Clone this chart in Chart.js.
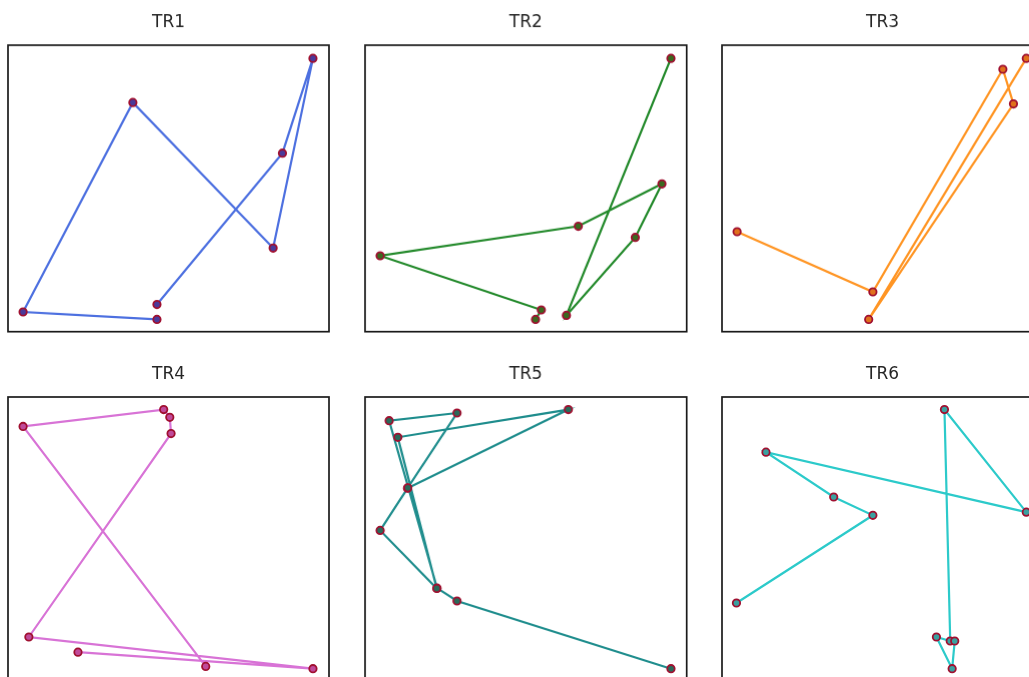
<!DOCTYPE html>
<html>
<head>
<meta charset="utf-8">
<script src="https://cdn.jsdelivr.net/npm/chart.js@4/dist/chart.umd.min.js"></script>
<style>
  html, body { margin: 0; padding: 0; background: #fff; overflow: hidden; width: 1029px; height: 677px; }
  .cell { position: absolute; }
</style>
</head>
<body>
<div class="cell" id="c1"><canvas id="tr1"></canvas></div>
<div class="cell" id="c2"><canvas id="tr2"></canvas></div>
<div class="cell" id="c3"><canvas id="tr3"></canvas></div>
<div class="cell" id="c4"><canvas id="tr4"></canvas></div>
<div class="cell" id="c5"><canvas id="tr5"></canvas></div>
<div class="cell" id="c6"><canvas id="tr6"></canvas></div>
<script>
// ---- Data (axis units 0..100) ----
const titles = ["TR1", "TR2", "TR3", "TR4", "TR5", "TR6"];

const tr1X = [46.4, 85.5, 95.0, 82.6, 38.9, 4.7, 46.4];
const tr1Y = [9.5, 62.3, 95.4, 29.2, 80.0, 6.9, 4.3];

const tr2X = [53.0, 54.8, 4.7, 66.3, 92.3, 84.0, 62.6, 95.1];
const tr2Y = [4.3, 7.6, 26.5, 36.8, 51.6, 32.9, 5.7, 95.4];

const tr3X = [4.7, 47.0, 87.5, 90.8, 45.7, 94.8];
const tr3Y = [34.9, 13.9, 91.6, 79.5, 4.3, 95.4];

const tr4X = [61.6, 4.7, 48.5, 50.4, 50.8, 6.5, 95.0, 21.8];
const tr4Y = [5.7, 89.7, 95.6, 92.9, 87.2, 16.0, 4.9, 10.7];

const tr5X = [95.1, 28.6, 22.4, 7.5, 28.6, 13.2, 63.2, 10.2, 22.3, 4.7, 13.3];
const tr5Y = [4.9, 28.6, 33.1, 91.7, 94.4, 68.1, 95.6, 85.9, 33.0, 53.3, 68.2];

const tr6X = [4.5, 47.0, 34.8, 13.7, 94.8, 69.3, 71.1, 66.8, 71.7, 72.5];
const tr6Y = [27.9, 58.6, 65.0, 80.7, 59.7, 95.6, 14.6, 16.0, 4.9, 14.6];

const seriesX = [tr1X, tr2X, tr3X, tr4X, tr5X, tr6X];
const seriesY = [tr1Y, tr2Y, tr3Y, tr4Y, tr5Y, tr6Y];

// ---- Styles ----
const lineColors = ["#4d70e0", "#22892a", "#ff9524", "#d873d6", "#1f8d8d", "#2ccaca"];
const markerFill = ["#4a3a9a", "#3a6a20", "#e0701c", "#c04a9a", "#2a6a5a", "#3aa0a0"];
const markerEdge = "#a01030";

// box geometry (left, top of box, width, height) in page pixels
const boxes = [
  [8.3, 45, 321, 285.7],
  [365, 45, 320.7, 285.7],
  [721.7, 45, 321, 285.7],
  [8.3, 396.7, 321, 285.7],
  [365, 396.7, 320.7, 285.7],
  [721.7, 396.7, 321, 285.7]
];

const PAD = 4;
const TITLE_SIZE = 17;
const TITLE_LH = 1.2;
const TITLE_PT = 12.0;
const TITLE_PB = 45 - TITLE_PT - TITLE_SIZE * TITLE_LH;

const boxPlugin = {
  id: 'boxPlugin',
  afterDatasetsDraw(chart) {
    const a = chart.chartArea;
    const ctx = chart.ctx;
    ctx.save();
    ctx.strokeStyle = '#1a1a1a';
    ctx.lineWidth = 1.7;
    ctx.strokeRect(a.left, a.top, a.right - a.left, a.bottom - a.top);
    ctx.restore();
  }
};

for (let i = 0; i < 6; i++) {
  const [bl, bt, bw, bh] = boxes[i];
  const cell = document.getElementById('c' + (i + 1));
  cell.style.left = (bl - PAD) + 'px';
  cell.style.top = (bt - 45) + 'px';
  cell.style.width = (bw + 2 * PAD) + 'px';
  cell.style.height = (45 + bh + PAD) + 'px';

  const pts = seriesX[i].map((x, k) => ({ x: x, y: seriesY[i][k] }));

  new Chart(document.getElementById('tr' + (i + 1)), {
    type: 'scatter',
    data: {
      datasets: [{
        data: pts,
        showLine: true,
        borderColor: lineColors[i],
        borderWidth: 2.2,
        pointRadius: 3.7,
        pointBorderWidth: 1.8,
        pointBackgroundColor: markerFill[i],
        pointBorderColor: markerEdge,
        tension: 0,
        clip: false
      }]
    },
    options: {
      responsive: true,
      maintainAspectRatio: false,
      animation: false,
      events: [],
      layout: { autoPadding: false, padding: { left: PAD, right: PAD, top: 0, bottom: PAD } },
      scales: {
        x: { type: 'linear', min: 0, max: 100, display: false },
        y: { type: 'linear', min: 0, max: 100, display: false }
      },
      plugins: {
        legend: { display: false },
        tooltip: { enabled: false },
        title: {
          display: true,
          text: titles[i],
          color: '#262626',
          font: { family: 'DejaVu Sans', size: TITLE_SIZE, weight: 'normal', lineHeight: TITLE_LH },
          padding: { top: TITLE_PT, bottom: TITLE_PB }
        }
      }
    },
    plugins: [boxPlugin]
  });
}
</script>
</body>
</html>
